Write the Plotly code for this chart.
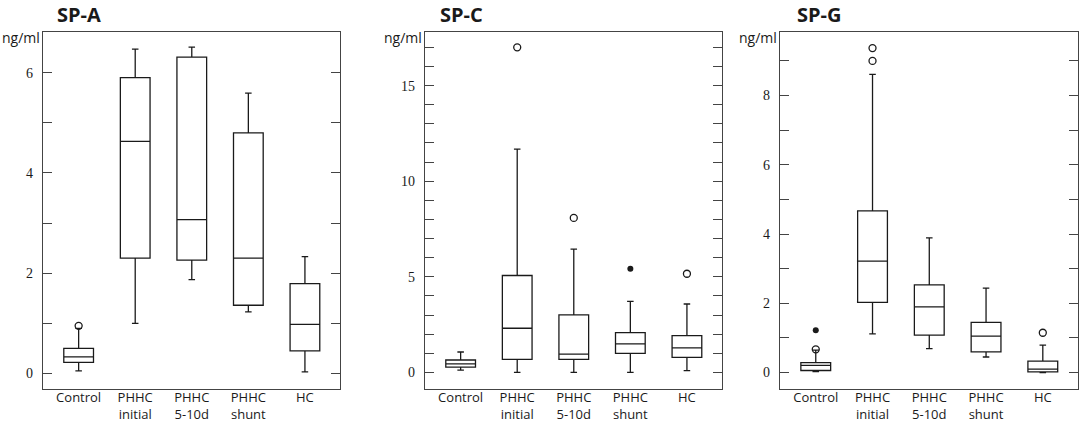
#!/usr/bin/env python3
"""
SP-A / SP-C / SP-G concentrations by group, drawn as box plots
from summary statistics read off the published figure.
"""

import plotly.graph_objects as go

# ── Data ─────────────────────────────────────────────────────────────────────
CATEGORIES = ['Control', 'PHHC initial', 'PHHC 5-10d', 'PHHC shunt', 'HC']
TICK_LABELS = ['Control', 'PHHC<br>initial', 'PHHC<br>5-10d', 'PHHC<br>shunt', 'HC']

# SP-A (ng/ml)
A_LOW = [0.05, 1.00, 1.87, 1.23, 0.03]
A_Q1 = [0.22, 2.30, 2.26, 1.36, 0.45]
A_MED = [0.33, 4.63, 3.07, 2.30, 0.98]
A_Q3 = [0.50, 5.90, 6.31, 4.80, 1.79]
A_HIGH = [0.90, 6.47, 6.51, 5.59, 2.33]
A_OUT_OPEN_X = ['Control']
A_OUT_OPEN_Y = [0.95]
A_OUT_FILL_X = []
A_OUT_FILL_Y = []

# SP-C (ng/ml)
C_LOW = [0.12, 0.00, 0.00, 0.00, 0.10]
C_Q1 = [0.28, 0.68, 0.68, 1.00, 0.79]
C_MED = [0.45, 2.31, 0.96, 1.49, 1.28]
C_Q3 = [0.65, 5.07, 3.01, 2.08, 1.92]
C_HIGH = [1.07, 11.68, 6.45, 3.72, 3.58]
C_OUT_OPEN_X = ['PHHC initial', 'PHHC 5-10d', 'HC']
C_OUT_OPEN_Y = [17.0, 8.08, 5.16]
C_OUT_FILL_X = ['PHHC shunt']
C_OUT_FILL_Y = [5.42]

# SP-G (ng/ml)
G_LOW = [0.03, 1.12, 0.69, 0.45, 0.00]
G_Q1 = [0.06, 2.03, 1.08, 0.60, 0.02]
G_MED = [0.21, 3.22, 1.90, 1.05, 0.10]
G_Q3 = [0.29, 4.67, 2.53, 1.45, 0.33]
G_HIGH = [0.65, 8.61, 3.89, 2.44, 0.79]
G_OUT_OPEN_X = ['Control', 'PHHC initial', 'PHHC initial', 'HC']
G_OUT_OPEN_Y = [0.67, 9.00, 9.37, 1.15]
G_OUT_FILL_X = ['Control']
G_OUT_FILL_Y = [1.22]

# ── Panel setup ──────────────────────────────────────────────────────────────
W, H = 1081, 423
INK = '#1a1a1a'
AXIS = '#444444'
SERIF = 'Liberation Serif, DejaVu Serif, Times New Roman, serif'


def px_x(x):
    return x / W


def px_y(y):
    return 1 - y / H


PANELS = [
    dict(title='SP-A', low=A_LOW, q1=A_Q1, med=A_MED, q3=A_Q3, high=A_HIGH,
         open_x=A_OUT_OPEN_X, open_y=A_OUT_OPEN_Y,
         fill_x=A_OUT_FILL_X, fill_y=A_OUT_FILL_Y,
         px=(43, 340), yrange=[-0.30, 6.82], dtick=2, title_x=55),
    dict(title='SP-C', low=C_LOW, q1=C_Q1, med=C_MED, q3=C_Q3, high=C_HIGH,
         open_x=C_OUT_OPEN_X, open_y=C_OUT_OPEN_Y,
         fill_x=C_OUT_FILL_X, fill_y=C_OUT_FILL_Y,
         px=(425, 722), yrange=[-0.84, 17.83], dtick=5, title_x=438),
    dict(title='SP-G', low=G_LOW, q1=G_Q1, med=G_MED, q3=G_Q3, high=G_HIGH,
         open_x=G_OUT_OPEN_X, open_y=G_OUT_OPEN_Y,
         fill_x=G_OUT_FILL_X, fill_y=G_OUT_FILL_Y,
         px=(780, 1078), yrange=[-0.46, 9.85], dtick=2, title_x=795),
]
PLOT_TOP, PLOT_BOTTOM = 31.5, 388.5   # pixel rows of the plot frame

fig = go.Figure()
layout = {}

for i, p in enumerate(PANELS, start=1):
    sfx = '' if i == 1 else str(i)
    xa, ya = f'x{sfx}', f'y{sfx}'

    fig.add_trace(go.Box(
        x=CATEGORIES, q1=p['q1'], median=p['med'], q3=p['q3'],
        lowerfence=p['low'], upperfence=p['high'],
        boxpoints=False, fillcolor='white',
        line=dict(color=INK, width=1.3), whiskerwidth=0.22,
        xaxis=xa, yaxis=ya, showlegend=False, hoverinfo='skip',
    ))
    if p['open_x']:
        fig.add_trace(go.Scatter(
            x=p['open_x'], y=p['open_y'], mode='markers',
            marker=dict(symbol='circle-open', size=7, color=INK,
                        line=dict(width=1.3, color=INK)),
            xaxis=xa, yaxis=ya, showlegend=False, hoverinfo='skip',
        ))
    if p['fill_x']:
        fig.add_trace(go.Scatter(
            x=p['fill_x'], y=p['fill_y'], mode='markers',
            marker=dict(symbol='circle', size=6, color=INK),
            xaxis=xa, yaxis=ya, showlegend=False, hoverinfo='skip',
        ))

    layout[f'xaxis{sfx}'] = dict(
        domain=[px_x(p['px'][0]), px_x(p['px'][1])], anchor=ya,
        type='category', range=[-0.63, 4.62],
        tickvals=CATEGORIES, ticktext=TICK_LABELS, ticks='',
        showline=True, mirror=True, linecolor=AXIS, linewidth=1.3,
        showgrid=False, zeroline=False, ticklabelstandoff=-3,
        tickfont=dict(family='Open Sans', size=13, color=INK),
    )
    layout[f'yaxis{sfx}'] = dict(
        domain=[px_y(PLOT_BOTTOM), px_y(PLOT_TOP)], anchor=xa,
        range=p['yrange'], dtick=p['dtick'], tick0=0,
        ticks='inside', ticklen=9, tickwidth=1.3, tickcolor=AXIS,
        minor=dict(dtick=1, tick0=0, ticks='inside', ticklen=9,
                   tickwidth=1.3, tickcolor=AXIS),
        showline=True, mirror='ticks', linecolor=AXIS, linewidth=1.3,
        showgrid=False, zeroline=False, ticklabelstandoff=6,
        tickfont=dict(family=SERIF, size=14, color=INK),
    )

    # panel title and unit label
    fig.add_annotation(
        x=px_x(p['title_x']), y=px_y(14), xref='paper', yref='paper',
        text=f"<b>{p['title']}</b>", showarrow=False,
        xanchor='left', yanchor='middle',
        font=dict(family='Open Sans', size=20, color=INK),
    )
    fig.add_annotation(
        x=px_x(p['px'][0] - 1), y=px_y(37), xref='paper', yref='paper',
        text='ng/ml', showarrow=False, xanchor='right', yanchor='middle',
        font=dict(family='Open Sans', size=14, color=INK),
    )

fig.update_layout(
    **layout,
    width=W, height=H,
    margin=dict(l=0, r=0, t=0, b=0),
    boxgap=0.25,
    paper_bgcolor='white',
    plot_bgcolor='white',
    showlegend=False,
)

# the default page has an 8px body margin; drop it so the figure fills the window
fig.write_html(
    'out.html',
    config={'displayModeBar': False},
    post_script="document.body.style.margin = '0';",
)
